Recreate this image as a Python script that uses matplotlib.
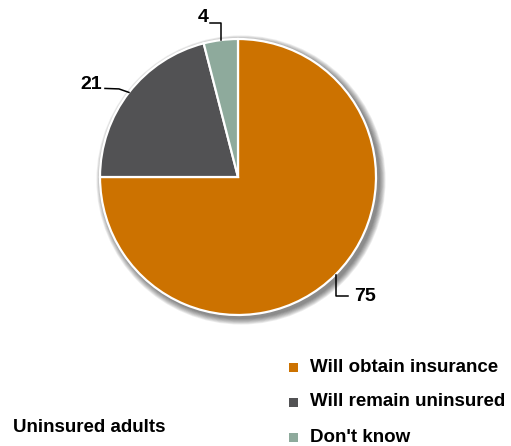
import numpy as np
import matplotlib
matplotlib.use("Agg")
import matplotlib.pyplot as plt
from matplotlib.patches import Circle

# Share of uninsured adults by expectation
categories = ["Will obtain insurance", "Will remain uninsured", "Don't know"]
values = [75, 21, 4]
colors = ["#CC7200", "#525254", "#8EAA9C"]
title = "Uninsured adults"

W, H = 511, 446
CX, CY, R = 238, 446 - 177, 138

plt.rcParams["font.family"] = ["Liberation Sans", "DejaVu Sans"]

fig = plt.figure(figsize=(W / 100, H / 100), dpi=100)
ax = fig.add_axes([0, 0, 1, 1])

# soft drop shadow under the pie
for i in range(8):
    ax.add_patch(Circle((CX + 3, CY - 3), R + 1 + i * 0.8, color="black",
                        alpha=0.07, lw=0, zorder=1))

wedges, _ = ax.pie(values, colors=colors, startangle=90, counterclock=False,
                   center=(CX, CY), radius=R, frame=True,
                   wedgeprops=dict(edgecolor="white", linewidth=1.6))
for w in wedges:
    w.set_zorder(2)
ax.set_xlim(0, W)
ax.set_ylim(0, H)
ax.set_aspect("equal")
ax.axis("off")

# leader lines from the middle of each slice
kw = dict(color="black", lw=1.1, zorder=3)
fs = 14
for w, v in zip(wedges, values):
    mid = np.deg2rad((w.theta1 + w.theta2) / 2)
    ax_x = CX + R * np.cos(mid)
    ax_y = CY + R * np.sin(mid)
    if v == 75:
        ax.plot([ax_x, ax_x, ax_x + 12], [ax_y, ax_y - 21, ax_y - 21], **kw)
        ax.text(ax_x + 19, ax_y - 22, str(v), fontsize=fs, fontweight="bold",
                ha="left", va="center")
    elif v == 21:
        ax.plot([ax_x - 24, ax_x - 10, ax_x], [ax_y + 4, ax_y + 3.5, ax_y], **kw)
        ax.text(ax_x - 27, ax_y + 8, str(v), fontsize=fs, fontweight="bold",
                ha="right", va="center")
    else:
        ax.plot([ax_x - 11, ax_x, ax_x], [ax_y + 17, ax_y + 17, ax_y], **kw)
        ax.text(ax_x - 12, ax_y + 23, str(v), fontsize=fs, fontweight="bold",
                ha="right", va="center")

# legend
for i, (lab, c) in enumerate(zip(categories, colors)):
    y = H - (367 + i * 35)
    ax.add_patch(plt.Rectangle((289, y - 4.5), 9, 9, color=c, lw=0))
    ax.text(310, y, lab, fontsize=13.5, fontweight="bold", ha="left", va="center")

ax.text(13, H - 428, title, fontsize=13.5, fontweight="bold", ha="left", va="center")

fig.savefig("out.png", dpi=100)
